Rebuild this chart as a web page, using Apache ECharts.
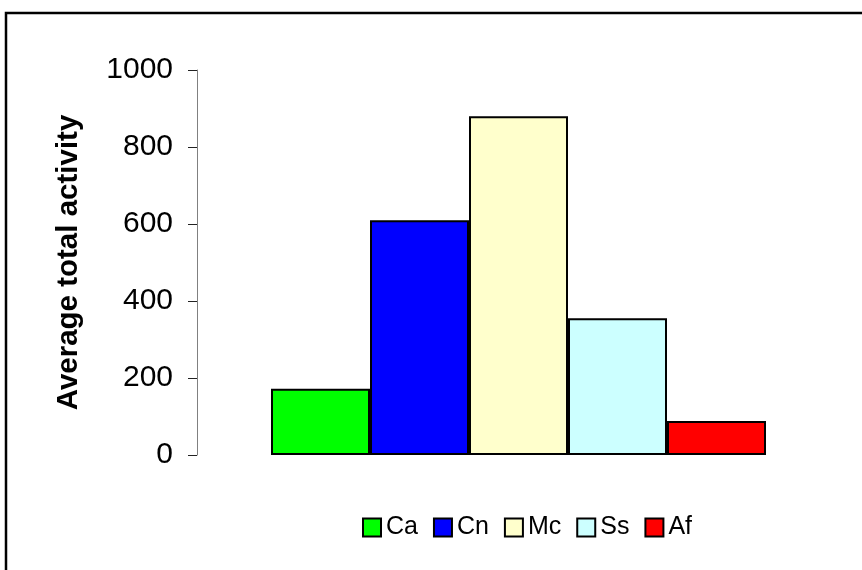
<!DOCTYPE html>
<html>
<head>
<meta charset="utf-8">
<script src="https://cdn.jsdelivr.net/npm/echarts@6/dist/echarts.min.js"></script>
<style>
html,body{margin:0;padding:0;background:#fff;}
#chart{width:862px;height:570px;}
</style>
</head>
<body>
<div id="chart"></div>
<script>
// Data
const seriesNames = ['Ca', 'Cn', 'Mc', 'Ss', 'Af'];
const seriesValues = [172, 610, 880, 355, 88];
const yTicks = [0, 200, 400, 600, 800, 1000];
const yAxisTitle = 'Average total activity';

// Styles
const seriesColors = ['#00FF00', '#0000FF', '#FFFFCC', '#CCFFFF', '#FF0000'];
const FONT = 'Liberation Sans, Arial, sans-serif';

const chart = echarts.init(document.getElementById('chart'), null, {renderer: 'canvas'});

const series = seriesNames.map((name, i) => ({
  name: name,
  type: 'bar',
  data: [seriesValues[i]],
  barWidth: 99,
  barGap: '0%',
  itemStyle: {color: seriesColors[i], borderColor: '#000', borderWidth: 2},
  emphasis: {disabled: true},
  animation: false
}));

chart.setOption({
  animation: false,
  backgroundColor: '#fff',
  textStyle: {fontFamily: FONT},
  graphic: [{
    type: 'rect',
    shape: {x: 6, y: 13, width: 900, height: 600},
    style: {fill: 'none', stroke: '#000', lineWidth: 2.5},
    silent: true,
    z: 100
  }],
  grid: {left: 197, right: 22, top: 70, bottom: 115, containLabel: false},
  legend: {
    data: seriesNames,
    left: 362,
    top: 515,
    padding: 0,
    icon: 'rect',
    itemWidth: 18,
    itemHeight: 18,
    itemGap: 15,
    textStyle: {fontSize: 25, color: '#000', fontFamily: FONT},
    itemStyle: {borderColor: '#000', borderWidth: 2}
  },
  xAxis: {
    type: 'category',
    data: [''],
    axisLine: {show: false},
    axisTick: {show: false},
    axisLabel: {show: false},
    splitLine: {show: false}
  },
  yAxis: {
    type: 'value',
    min: yTicks[0],
    max: yTicks[yTicks.length - 1],
    interval: yTicks[1] - yTicks[0],
    name: yAxisTitle,
    nameLocation: 'middle',
    nameRotate: 90,
    nameGap: 113,
    nameTextStyle: {fontSize: 29.5, fontWeight: 'bold', color: '#000', fontFamily: FONT},
    axisLine: {show: true, lineStyle: {color: '#808080', width: 1}},
    axisTick: {show: true, inside: false, length: 9, lineStyle: {color: '#222', width: 1}},
    axisLabel: {fontSize: 30, color: '#000', margin: 24, fontFamily: FONT, formatter: function (v) { return String(v); }},
    splitLine: {show: false}
  },
  series: series
});
</script>
</body>
</html>
